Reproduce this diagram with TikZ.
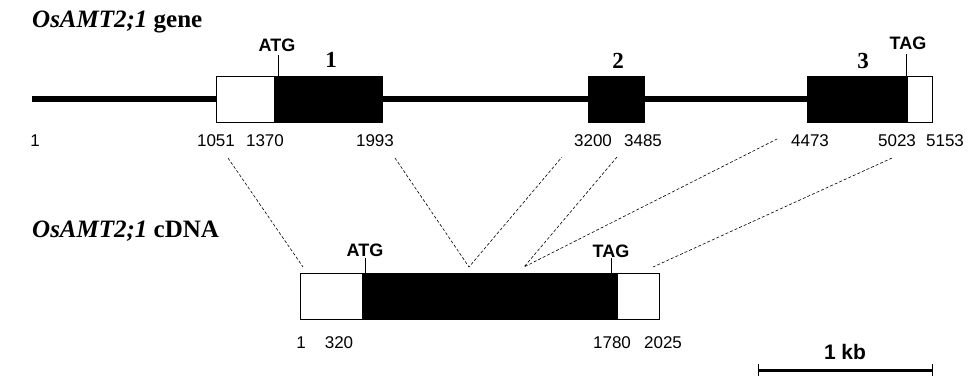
\documentclass[tikz,border=0pt]{standalone}
\usepackage{fontspec}
\setmainfont{Liberation Serif}
\setsansfont{Liberation Sans}
\begin{document}
\begin{tikzpicture}[x=1pt,y=-1pt,
  num/.style={font=\sffamily\fontsize{17}{17}\selectfont, inner sep=0pt},
  codon/.style={font=\sffamily\bfseries\fontsize{18}{18}\selectfont, inner sep=0pt},
  exnum/.style={font=\rmfamily\bfseries\fontsize{23}{23}\selectfont, inner sep=0pt},
  title/.style={font=\rmfamily\bfseries\fontsize{25}{25}\selectfont, anchor=base west, inner sep=0pt},
  utr/.style={draw=black, line width=0.8pt, fill=white, inner sep=0pt, minimum height=46pt, anchor=north west},
  cds/.style={draw=black, line width=0.8pt, fill=black, inner sep=0pt, minimum height=46pt, anchor=north west},
  link/.style={dash pattern=on 3pt off 2pt, line width=0.6pt},
  tick/.style={line width=0.8pt},
  genome/.style={line width=6pt}]
\useasboundingbox (0,0) rectangle (969,375);

% titles
\node[title] (tgene) at (32,27) {\textit{OsAMT2;1} gene};
\node[title] (tcdna) at (32,237) {\textit{OsAMT2;1} cDNA};

% gene line
\coordinate (gstart) at (32,99);
\coordinate (gend) at (808,99);
\draw[genome] (gstart) -- (gend);

% gene boxes
\node[utr, minimum width=58pt] (u5) at (216,76) {};
\node[cds, minimum width=108pt] (e1) at (274,76) {};
\node[cds, minimum width=56pt] (e2) at (588,76) {};
\node[cds, minimum width=100pt] (e3) at (807,76) {};
\node[utr, minimum width=25pt] (u3) at (907,76) {};

% exon numbers
\node[exnum] (n1) at (331,60) {1};
\node[exnum] (n2) at (618,61) {2};
\node[exnum] (n3) at (863,61) {3};

% codons on gene
\node[codon] (gatg) at (277,45) {ATG};
\node[codon] (gtag) at (908,43) {TAG};
\coordinate (gatgt) at (278,55);
\coordinate (gatgb) at (278,76);
\draw[tick] (gatgt) -- (gatgb);
\coordinate (gtagt) at (906,54);
\coordinate (gtagb) at (906,76);
\draw[tick] (gtagt) -- (gtagb);

% gene positions
\node[num] (p1) at (35,141) {1};
\node[num] (p1051) at (216,141) {1051};
\node[num] (p1370) at (265,141) {1370};
\node[num] (p1993) at (375,141) {1993};
\node[num] (p3200) at (593,141) {3200};
\node[num] (p3485) at (643,141) {3485};
\node[num] (p4473) at (810,141) {4473};
\node[num] (p5023) at (897,141) {5023};
\node[num] (p5153) at (945,141) {5153};

% cDNA boxes
\node[utr, minimum width=62pt] (c5) at (300,273) {};
\node[cds, minimum width=255pt] (ccds) at (362,273) {};
\node[utr, minimum width=42pt] (c3) at (617,273) {};

% codons on cDNA
\node[codon] (catg) at (365,250) {ATG};
\node[codon] (ctag) at (611,251) {TAG};
\coordinate (catgt) at (365,258);
\coordinate (catgb) at (365,273);
\draw[tick] (catgt) -- (catgb);
\coordinate (ctagt) at (611,258);
\coordinate (ctagb) at (611,273);
\draw[tick] (ctagt) -- (ctagb);

% cDNA positions
\node[num] (q1) at (301,343) {1};
\node[num] (q320) at (339,343) {320};
\node[num] (q1780) at (612,343) {1780};
\node[num] (q2025) at (663,343) {2025};

% dashed links
\coordinate (d1s) at (228,158);
\coordinate (d1e) at (303,267);
\coordinate (d2s) at (395,158);
\coordinate (v1) at (469,267);
\coordinate (d3s) at (562,157);
\coordinate (d4s) at (617,157);
\coordinate (v2) at (524,267);
\coordinate (d5s) at (777,139);
\coordinate (d6s) at (892,158);
\coordinate (d6e) at (653,267);
\draw[link] (d1s) -- (d1e);
\draw[link] (d2s) -- (v1) -- (d3s);
\draw[link] (d4s) -- (v2) -- (d5s);
\draw[link] (d6s) -- (d6e);

% scale bar
\coordinate (sb1) at (758,370);
\coordinate (sb2) at (932,370);
\draw[line width=3pt] (sb1) -- (sb2);
\draw[tick] ([yshift=-6pt]sb1) -- ([yshift=6pt]sb1);
\draw[tick] ([yshift=-6pt]sb2) -- ([yshift=6pt]sb2);
\node[codon, font=\sffamily\bfseries\fontsize{21}{21}\selectfont] (kb) at (845,352) {1 kb};
\end{tikzpicture}
\end{document}
